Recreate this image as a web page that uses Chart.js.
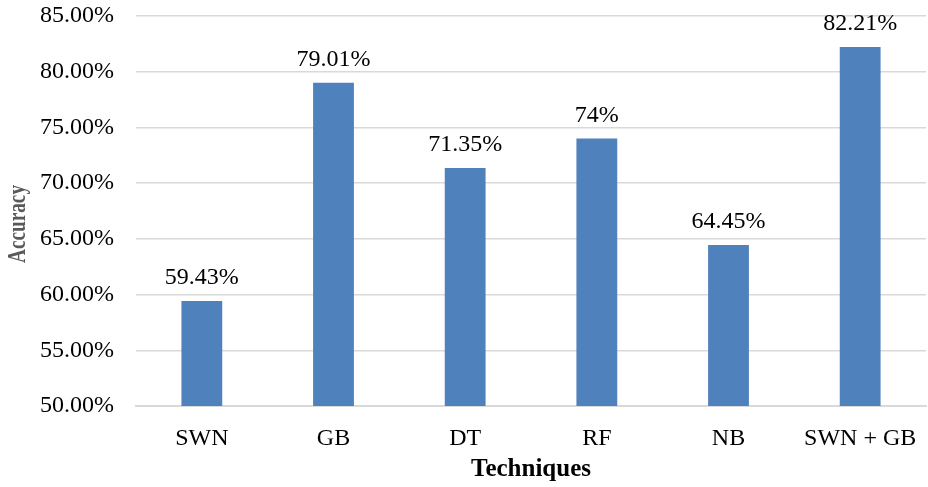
<!DOCTYPE html>
<html>
<head>
<meta charset="utf-8">
<script src="https://cdn.jsdelivr.net/npm/chart.js@4.4.1/dist/chart.umd.min.js"></script>
<style>
  html, body { margin: 0; padding: 0; background: #ffffff; }
  #wrap { width: 928px; height: 487px; }
</style>
</head>
<body>
<div id="wrap"><canvas id="chart" width="928" height="487"></canvas></div>
<script>
// Classification accuracy per technique (percent)
const techniques = ['SWN', 'GB', 'DT', 'RF', 'NB', 'SWN + GB'];
const accuracy = [59.43, 79.01, 71.35, 74, 64.45, 82.21];

const yMin = 50;
const yMax = 85;
const yStep = 5;
const yTitle = 'Accuracy';

const FONT = '"Liberation Serif", "Times New Roman", serif';

// Writes each bar's value above it
const valueLabels = {
  id: 'valueLabels',
  afterDatasetsDraw(chart) {
    const ctx = chart.ctx;
    const meta = chart.getDatasetMeta(0);
    ctx.save();
    ctx.font = '24px ' + FONT;
    ctx.fillStyle = '#000000';
    ctx.textAlign = 'center';
    ctx.textBaseline = 'bottom';
    meta.data.forEach((bar, i) => {
      const v = chart.data.datasets[0].data[i];
      ctx.fillText(Number(v) + '%', bar.x, bar.y - 11);
    });
    ctx.restore();
  }
};

// Condensed, rotated value-axis title centred on the plot area
const condensedYTitle = {
  id: 'condensedYTitle',
  afterDraw(chart) {
    const ctx = chart.ctx;
    const area = chart.chartArea;
    const cy = (area.top + area.bottom) / 2 + 13;
    ctx.save();
    ctx.translate(18, cy);
    ctx.rotate(-Math.PI / 2);
    ctx.scale(0.74, 1);
    ctx.font = 'bold 26px ' + FONT;
    ctx.fillStyle = '#595959';
    ctx.textAlign = 'center';
    ctx.textBaseline = 'middle';
    ctx.fillText(yTitle, 0, 0);
    ctx.restore();
  }
};

new Chart(document.getElementById('chart'), {
  type: 'bar',
  data: {
    labels: techniques,
    datasets: [{
      data: accuracy,
      backgroundColor: '#4F81BD',
      borderWidth: 0,
      barPercentage: 0.31,
      categoryPercentage: 1.0
    }]
  },
  options: {
    responsive: false,
    animation: false,
    devicePixelRatio: 1,
    layout: { padding: { top: 16, right: 2, left: 0, bottom: 0 } },
    plugins: {
      legend: { display: false },
      tooltip: { enabled: false }
    },
    scales: {
      x: {
        grid: { display: false, drawTicks: false },
        border: { display: true, color: '#d9d9d9', width: 2 },
        ticks: {
          color: '#000000',
          font: { family: FONT, size: 24 },
          padding: 18
        },
        title: {
          display: true,
          text: 'Techniques',
          color: '#000000',
          font: { family: FONT, size: 25, weight: 'bold' },
          padding: { top: 4, bottom: 2 }
        },
        afterFit(scale) {
          scale.height = 81;
          scale.paddingLeft = 0;
          scale.paddingRight = 0;
        }
      },
      y: {
        min: yMin,
        max: yMax,
        grid: { color: '#d9d9d9', lineWidth: 1.5, drawTicks: false },
        border: { display: false },
        ticks: {
          stepSize: yStep,
          color: '#000000',
          font: { family: FONT, size: 24 },
          padding: 22,
          callback: (v) => Number(v).toFixed(2) + '%'
        },
        title: { display: false },
        afterFit(scale) {
          scale.width = 136;
          scale.paddingTop = 0;
          scale.paddingBottom = 0;
        }
      }
    }
  },
  plugins: [valueLabels, condensedYTitle]
});
</script>
</body>
</html>
